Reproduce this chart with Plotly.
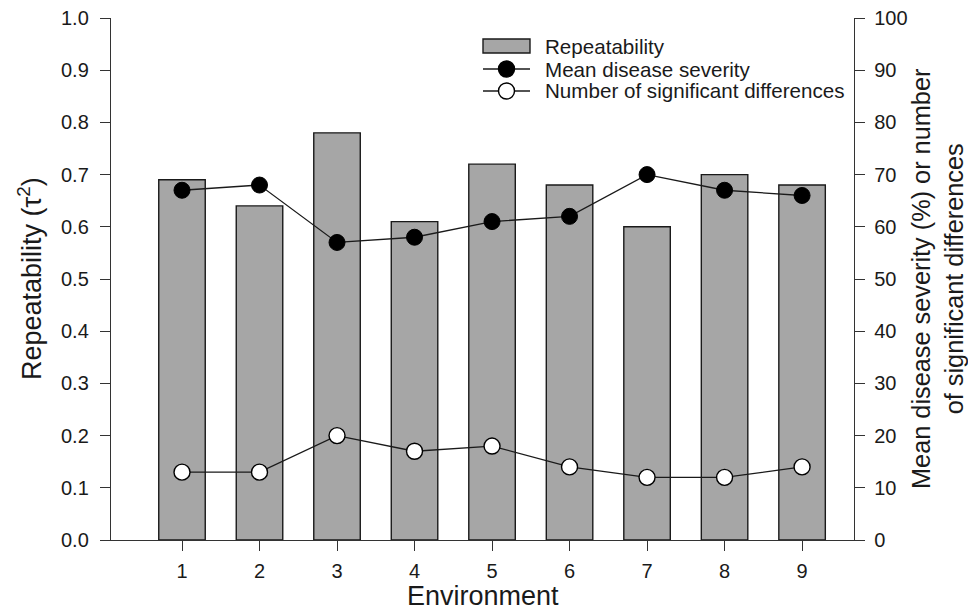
import plotly.graph_objects as go

environments = [1, 2, 3, 4, 5, 6, 7, 8, 9]
repeatability = [0.69, 0.64, 0.78, 0.61, 0.72, 0.68, 0.60, 0.70, 0.68]
mean_severity = [67, 68, 57, 58, 61, 62, 70, 67, 66]
num_sig_diff = [13, 13, 20, 17, 18, 14, 12, 12, 14]
legend_labels = ["Repeatability", "Mean disease severity", "Number of significant differences"]

FONT = "Liberation Sans, Arial, sans-serif"
INK = "#1a1a1a"

# plot area in pixels
L, R, T, B = 111, 854, 18, 540
W, H = R - L, B - T


def px(x):
    return (x - L) / W


def py(y):
    return (B - y) / H


fig = go.Figure()
fig.add_trace(go.Bar(
    x=environments, y=repeatability, name=legend_labels[0],
    width=0.6, marker=dict(color="#a6a6a6", line=dict(color=INK, width=1.4)),
    yaxis="y", showlegend=False))
fig.add_trace(go.Scatter(
    x=environments, y=mean_severity, name=legend_labels[1],
    mode="lines+markers", line=dict(color=INK, width=1.3),
    marker=dict(symbol="circle", size=16, color="black", line=dict(color="black", width=1)),
    yaxis="y2", showlegend=False))
fig.add_trace(go.Scatter(
    x=environments, y=num_sig_diff, name=legend_labels[2],
    mode="lines+markers", line=dict(color=INK, width=1.3),
    marker=dict(symbol="circle", size=16, color="white", line=dict(color="black", width=1.4)),
    yaxis="y2", showlegend=False))

# manual legend
shapes = []
annotations = []
rows_y = [46, 69, 91]
shapes.append(dict(type="rect", xref="paper", yref="paper",
                   x0=px(483), x1=px(530), y0=py(53), y1=py(39),
                   fillcolor="#a6a6a6", line=dict(color=INK, width=1.4)))
for ry, fill in [(rows_y[1], "black"), (rows_y[2], "white")]:
    shapes.append(dict(type="line", xref="paper", yref="paper",
                       x0=px(483), x1=px(530), y0=py(ry), y1=py(ry),
                       line=dict(color=INK, width=1.3)))
    shapes.append(dict(type="circle", xref="paper", yref="paper",
                       x0=px(498.5), x1=px(514.5), y0=py(ry + 8), y1=py(ry - 8),
                       fillcolor=fill, line=dict(color="black", width=1.4)))
for lbl, ry in zip(legend_labels, rows_y):
    annotations.append(dict(text=lbl, xref="paper", yref="paper", x=px(543), y=py(ry),
                            xanchor="left", yanchor="middle", showarrow=False,
                            font=dict(size=20.6, color=INK)))

# axis titles
annotations.append(dict(text="Environment", xref="paper", yref="paper",
                        x=px(483), y=py(596), xanchor="center", yanchor="middle",
                        showarrow=False, font=dict(size=27, color=INK)))
annotations.append(dict(text="Repeatability (τ<sup>2</sup>)", xref="paper", yref="paper",
                        x=px(30), y=py(279), xanchor="center", yanchor="middle", textangle=-90,
                        showarrow=False, font=dict(size=27, color=INK)))
annotations.append(dict(text="Mean disease severity (%) or number<br>of significant differences",
                        xref="paper", yref="paper",
                        x=px(937), y=py(279), xanchor="center", yanchor="middle", textangle=-90,
                        showarrow=False, font=dict(size=25.3, color=INK)))

axis_common = dict(ticks="outside", ticklen=10, tickwidth=1.4, tickcolor="#333",
                   showline=True, linecolor="#333", linewidth=1.4,
                   showgrid=False, zeroline=False, automargin=False,
                   tickfont=dict(size=20, color=INK))

fig.update_layout(
    width=968, height=610,
    margin=dict(l=L, r=968 - R, t=T, b=610 - B),
    plot_bgcolor="white", paper_bgcolor="white",
    font=dict(family=FONT, size=20, color=INK),
    showlegend=False,
    xaxis=dict(range=[0.084, 9.67], tickmode="array", tickvals=environments,
               ticklabelstandoff=3, **axis_common),
    yaxis=dict(range=[0, 1], tickmode="linear", tick0=0, dtick=0.1, tickformat=".1f",
               ticklabelstandoff=7, **axis_common),
    yaxis2=dict(range=[0, 100], overlaying="y", side="right", tickmode="linear", tick0=0, dtick=10,
                ticklabelstandoff=5, **axis_common),
    shapes=shapes,
    annotations=annotations,
)

fig.write_html("out.html", config={"displayModeBar": False},
               post_script="document.body.style.margin='0px';document.body.style.overflow='hidden';")
